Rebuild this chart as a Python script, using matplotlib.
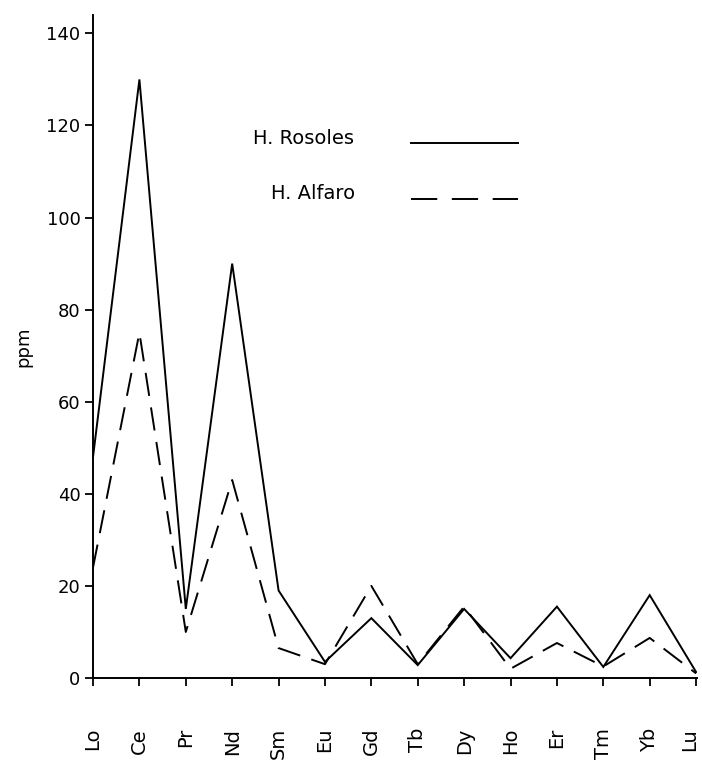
import matplotlib
matplotlib.use("Agg")
import matplotlib.pyplot as plt
from matplotlib.lines import Line2D
import matplotlib.transforms as mtransforms

elements = ["Lo", "Ce", "Pr", "Nd", "Sm", "Eu", "Gd", "Tb", "Dy", "Ho", "Er", "Tm", "Yb", "Lu"]
rosales = [48, 130, 15, 90, 19, 3.5, 13, 2.8, 15, 4.3, 15.5, 2.4, 18, 1.3]
alfaro = [24, 75, 10, 43, 6.5, 3, 20, 3, 15.5, 2, 7.6, 2.5, 8.7, 1]
yticks = [0, 20, 40, 60, 80, 100, 120, 140]

plt.rcParams['font.family'] = ['DejaVu Sans']

fig = plt.figure(figsize=(7.02, 7.6), dpi=100)
ax = fig.add_axes([0.1325, 0.1079, 0.8604, 0.8724])

x = list(range(len(elements)))
ax.plot(x, rosales, color='black', lw=1.4, solid_joinstyle='miter')
ax.plot(x, alfaro, color='black', lw=1.4, linestyle=(0, (12, 6)))

ax.set_xlim(0, 13.02)
ax.set_ylim(0, 144)
ax.set_xticks(x)
ax.set_xticklabels(elements, rotation=90, fontsize=14)
ax.set_yticks(yticks)
ax.set_yticklabels([str(v) for v in yticks], fontsize=13)
ax.tick_params(axis='x', direction='out', length=6, width=1.3, pad=30)
ax.tick_params(axis='y', direction='out', length=6, width=1.3, pad=3)
for s in ['top', 'right']:
    ax.spines[s].set_visible(False)
for s in ['left', 'bottom']:
    ax.spines[s].set_linewidth(1.4)
ax.set_ylabel('ppm', fontsize=13, labelpad=10)

# keep the last tick label inside the canvas
last = ax.get_xticklabels()[-1]
last.set_transform(last.get_transform() +
                   mtransforms.ScaledTranslation(-6 / 100, 0, fig.dpi_scale_trans))

# manual legend
ax.text(0.265, 0.814, 'H. Rosoles', transform=ax.transAxes, fontsize=14,
        va='center', ha='left')
ax.add_line(Line2D([0.526, 0.703], [0.807, 0.807], transform=ax.transAxes,
                   color='black', lw=1.4))
ax.text(0.295, 0.731, 'H. Alfaro', transform=ax.transAxes, fontsize=14,
        va='center', ha='left')
ax.add_line(Line2D([0.526, 0.703], [0.722, 0.722], transform=ax.transAxes,
                   color='black', lw=1.4, linestyle=(0, (13.5, 7.5))))

fig.savefig('out.png', dpi=100)
